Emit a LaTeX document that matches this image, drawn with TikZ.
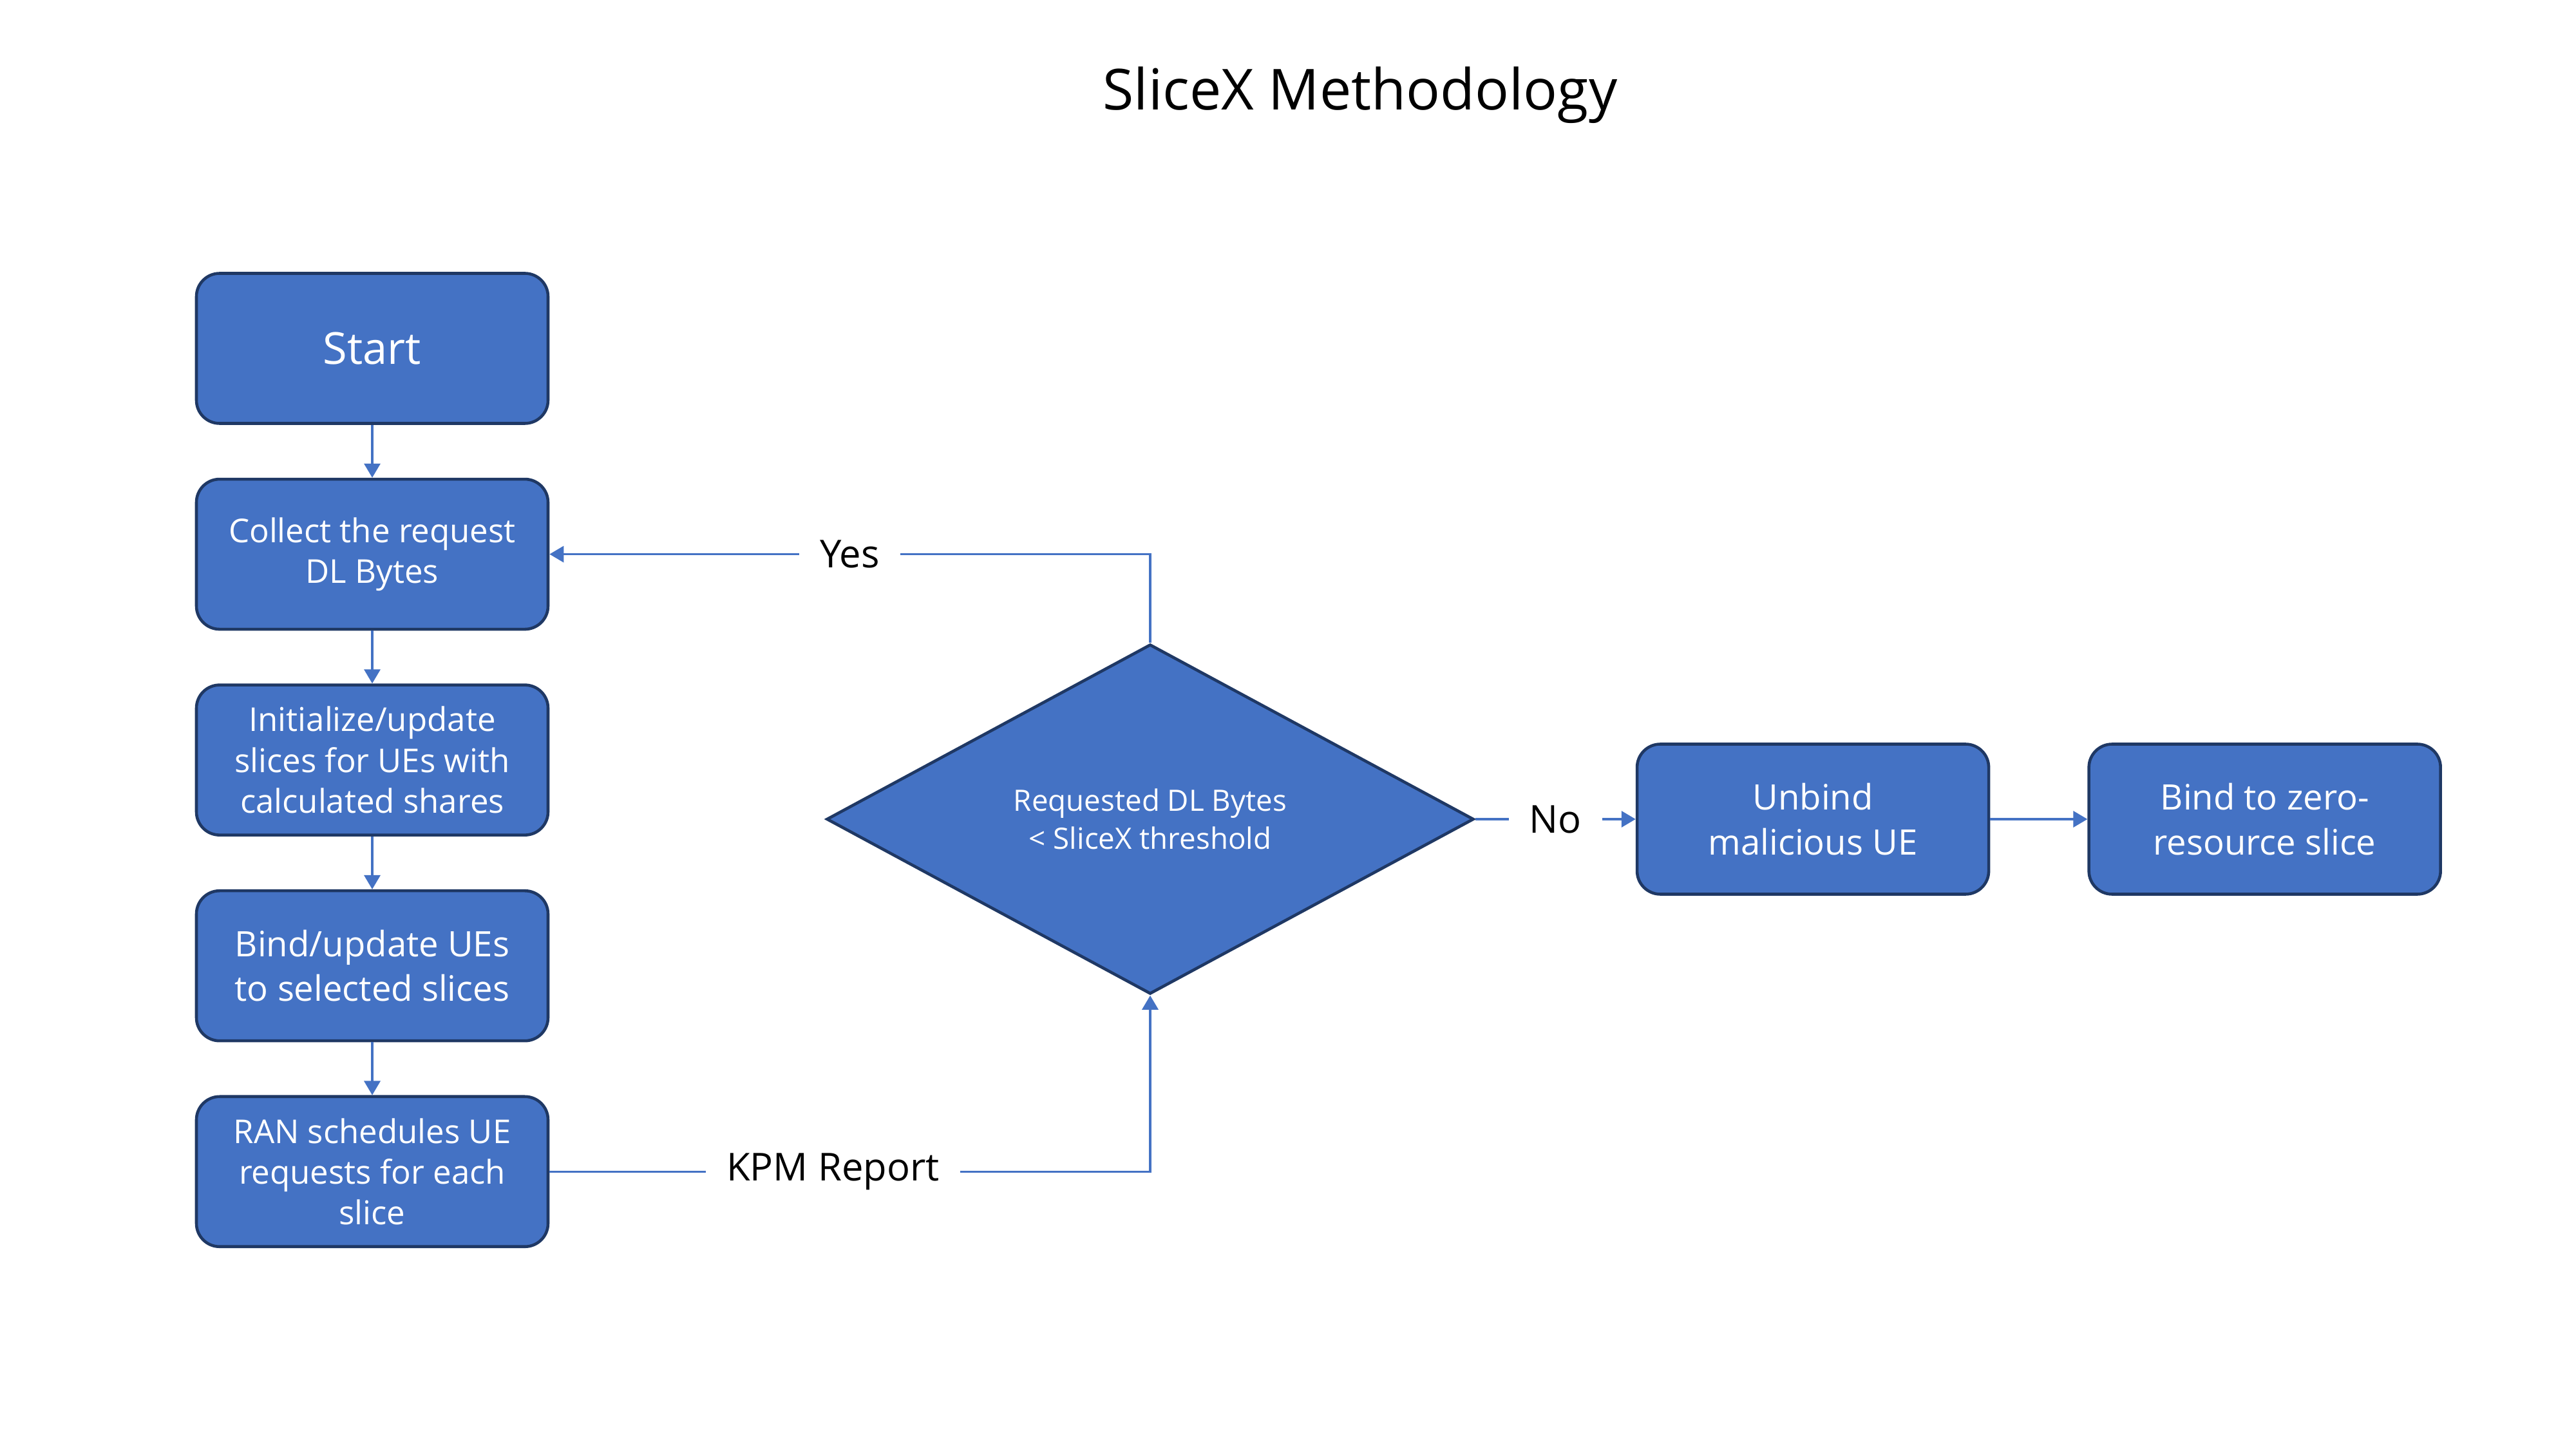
\documentclass[tikz,border=0pt]{standalone}
\usepackage{fontspec}
\setmainfont{Open Sans}
\usetikzlibrary{positioning,shapes.geometric,arrows.meta}
\definecolor{sxFill}{HTML}{4472C4}
\definecolor{sxEdge}{HTML}{1F3864}

\begin{document}
\begin{tikzpicture}[
    procbox/.style={rectangle, rounded corners=0.36cm, draw=sxEdge, line width=1.3pt, fill=sxFill, text=white,
        minimum width=5.46cm, minimum height=2.33cm, align=center, font=\fontsize{14.5}{18}\selectfont},
    decision/.style={diamond, draw=sxEdge, line width=1.3pt, fill=sxFill, text=white,
        minimum width=10.05cm, minimum height=5.43cm, inner sep=0pt, align=center, font=\fontsize{13}{16.6}\selectfont},
    flowline/.style={draw, color=sxFill, line width=1pt, -{Triangle[length=0.22cm, width=0.25cm]}},
    lbl/.style={fill=white, text=black, inner xsep=0.32cm, font=\fontsize{17}{20}\selectfont},
    node distance=0.82cm
]
                \useasboundingbox (0,0) rectangle (40,-22.5);

                \node[font=\fontsize{25}{30}\selectfont] (title) at (21.12,-1.48) {SliceX Methodology};

                \node[procbox, font=\fontsize{19.5}{24}\selectfont] (start) at (5.78,-5.41) {Start};
                \node[procbox] (collect) [below=of start] {Collect the request\\DL Bytes};
                \node[procbox] (init) [below=of collect] {Initialize/update\\slices for UEs with\\calculated shares};
                \node[procbox, font=\fontsize{15.5}{19.5}\selectfont] (bindup) [below=of init] {Bind/update UEs\\to selected slices};
                \node[procbox] (ran) [below=of bindup] {RAN schedules UE\\requests for each\\slice};

                \node[decision] (dec) at (17.86,-12.72) {Requested DL Bytes\\< SliceX threshold};
                \node[procbox, font=\fontsize{15.5}{20}\selectfont] (unbind) [right=2.49cm of dec] {Unbind\\malicious UE};
                \node[procbox, font=\fontsize{15.5}{20}\selectfont] (zero) [right=1.51cm of unbind] {Bind to zero-\\resource slice};

                \path[flowline]
                    (start) edge (collect)
                    (collect) edge (init)
                    (init) edge (bindup)
                    (bindup) edge (ran)
                    (unbind) edge (zero)
                ;
                \draw[flowline] (dec.north) |- node[lbl, pos=0.75] {Yes} (collect.east);
                \draw[flowline] (ran.east) -| node[lbl, pos=0.236] {KPM Report} (dec.south);
                \draw[flowline] (dec.east) -- node[lbl] {No} (unbind.west);
            \end{tikzpicture}
\end{document}
